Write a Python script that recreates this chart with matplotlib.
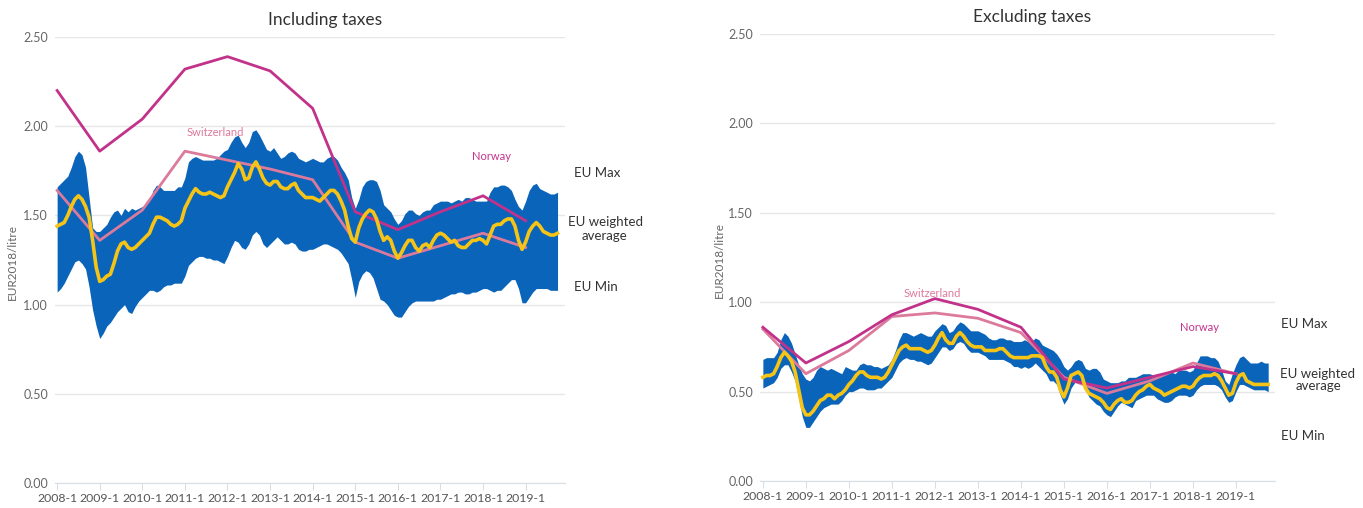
import matplotlib.pyplot as plt
import matplotlib
import numpy as np

matplotlib.use('Agg')
plt.rcParams['font.family'] = ['Lato', 'DejaVu Sans']

# monthly values 2008-1 .. 2019-10, EUR2018/litre
incl_max = [1.66, 1.68, 1.70, 1.72, 1.77, 1.83, 1.86, 1.84, 1.77, 1.60,
            1.43, 1.41, 1.41, 1.43, 1.45, 1.49, 1.52, 1.53, 1.50, 1.54,
            1.52, 1.54, 1.53, 1.54, 1.55, 1.56, 1.58, 1.64, 1.67, 1.66,
            1.64, 1.64, 1.64, 1.64, 1.66, 1.66, 1.71,
            1.80, 1.82, 1.83, 1.82, 1.81, 1.81, 1.81, 1.81, 1.82, 1.84,
            1.86, 1.87, 1.91, 1.94, 1.95, 1.91, 1.88, 1.91, 1.97, 1.98,
            1.95, 1.91, 1.87, 1.86, 1.88, 1.85, 1.82, 1.83, 1.85, 1.86,
            1.85, 1.82, 1.81, 1.80, 1.81, 1.82,
            1.81, 1.80, 1.80, 1.82, 1.83, 1.83, 1.81, 1.77, 1.74, 1.70,
            1.60, 1.54, 1.59, 1.66, 1.69, 1.70, 1.70, 1.69, 1.64, 1.56,
            1.54, 1.52, 1.48, 1.45, 1.47, 1.51, 1.53, 1.53, 1.51, 1.50,
            1.52, 1.53, 1.53, 1.56, 1.57, 1.58,
            1.58, 1.58, 1.57, 1.58, 1.59, 1.58, 1.60, 1.60, 1.59, 1.58,
            1.58, 1.58, 1.58, 1.63, 1.66, 1.66, 1.67, 1.67, 1.66, 1.64,
            1.59, 1.55, 1.53, 1.58, 1.64, 1.67, 1.68, 1.65, 1.64, 1.63,
            1.62, 1.62, 1.63]
incl_min = [1.07, 1.09, 1.12, 1.16, 1.20, 1.24, 1.25, 1.23, 1.20, 1.10,
            0.97, 0.88, 0.81, 0.84, 0.88, 0.90, 0.93, 0.96, 0.98, 1.00,
            0.96, 0.95, 0.99, 1.02, 1.04, 1.06, 1.08, 1.08, 1.07, 1.08,
            1.10, 1.11, 1.11, 1.12, 1.12, 1.12, 1.16,
            1.22, 1.24, 1.26, 1.27, 1.27, 1.26, 1.26, 1.25, 1.25, 1.24,
            1.23, 1.27, 1.32, 1.36, 1.35, 1.32, 1.31, 1.34, 1.39, 1.41,
            1.39, 1.34, 1.32, 1.34, 1.36, 1.38, 1.36, 1.34, 1.34, 1.35,
            1.34, 1.31, 1.30, 1.30, 1.31, 1.31,
            1.32, 1.33, 1.34, 1.34, 1.33, 1.32, 1.31, 1.29, 1.26, 1.23,
            1.14, 1.04, 1.13, 1.17, 1.19, 1.18, 1.15, 1.09, 1.03, 1.02,
            1.00, 0.97, 0.94, 0.93, 0.93, 0.96, 0.99, 1.01, 1.02, 1.02,
            1.02, 1.02, 1.02, 1.02, 1.03, 1.03,
            1.04, 1.05, 1.06, 1.06, 1.07, 1.07, 1.06, 1.06, 1.07, 1.07,
            1.08, 1.09, 1.09, 1.08, 1.07, 1.08, 1.08, 1.10, 1.12, 1.14,
            1.14, 1.09, 1.01, 1.01, 1.04, 1.07, 1.09, 1.09, 1.09, 1.09,
            1.08, 1.08, 1.08]
incl_avg = [1.44, 1.45, 1.46, 1.50, 1.55, 1.59, 1.61, 1.59, 1.55, 1.49,
            1.36, 1.21, 1.13, 1.14, 1.16, 1.17, 1.23, 1.30, 1.34, 1.35,
            1.32, 1.31, 1.32, 1.34, 1.36, 1.38, 1.40, 1.45, 1.49, 1.49,
            1.48, 1.47, 1.45, 1.44, 1.45, 1.47, 1.54,
            1.58, 1.62, 1.65, 1.63, 1.62, 1.62, 1.63, 1.62, 1.61, 1.60,
            1.61, 1.66, 1.70, 1.74, 1.79, 1.76, 1.70, 1.71, 1.77, 1.80,
            1.76, 1.71, 1.68, 1.67, 1.69, 1.69, 1.66, 1.65, 1.65, 1.67,
            1.68, 1.64, 1.62, 1.60, 1.60, 1.60,
            1.59, 1.58, 1.60, 1.62, 1.64, 1.64, 1.62, 1.58, 1.53, 1.44,
            1.37, 1.35, 1.43, 1.48, 1.51, 1.53, 1.52, 1.48, 1.41, 1.36,
            1.38, 1.36, 1.30, 1.26, 1.29, 1.33, 1.36, 1.36, 1.32, 1.30,
            1.33, 1.34, 1.32, 1.36, 1.39, 1.40,
            1.39, 1.37, 1.35, 1.36, 1.33, 1.32, 1.32, 1.34, 1.36, 1.36,
            1.37, 1.36, 1.34, 1.39, 1.44, 1.45, 1.45, 1.47, 1.48, 1.48,
            1.44, 1.36, 1.31, 1.35, 1.41, 1.44, 1.46, 1.44, 1.41, 1.40,
            1.39, 1.39, 1.40]

excl_max = [0.68, 0.69, 0.69, 0.69, 0.72, 0.79, 0.83, 0.81, 0.77, 0.71,
            0.65, 0.60, 0.57, 0.56, 0.58, 0.62, 0.64, 0.63, 0.62, 0.63,
            0.62, 0.61, 0.60, 0.64, 0.63, 0.62, 0.62, 0.65, 0.66, 0.65,
            0.65, 0.64, 0.64,
            0.63, 0.64, 0.65, 0.68, 0.73, 0.79, 0.83, 0.83, 0.82, 0.81,
            0.82, 0.83, 0.82, 0.81, 0.81, 0.84, 0.86, 0.88, 0.87, 0.83,
            0.84, 0.87, 0.89, 0.88, 0.86, 0.84, 0.84, 0.84, 0.83, 0.82,
            0.80, 0.79, 0.79, 0.80, 0.80, 0.79,
            0.79, 0.78, 0.78, 0.78, 0.79, 0.78, 0.78, 0.80, 0.79, 0.76,
            0.75, 0.74, 0.73, 0.71, 0.68, 0.64, 0.62, 0.64, 0.67, 0.68,
            0.67, 0.63, 0.62, 0.63, 0.63, 0.61, 0.57, 0.56, 0.55, 0.55,
            0.55, 0.56, 0.56, 0.58, 0.58,
            0.58, 0.59, 0.60, 0.60, 0.60, 0.59, 0.59, 0.59, 0.60, 0.61,
            0.61, 0.60, 0.62, 0.62, 0.62, 0.61, 0.62, 0.66, 0.70, 0.70,
            0.70, 0.69, 0.69, 0.67, 0.62, 0.56, 0.54, 0.60, 0.65, 0.69,
            0.70, 0.68, 0.66, 0.66, 0.66, 0.67, 0.66, 0.66]
excl_min = [0.52, 0.53, 0.54, 0.55, 0.58, 0.63, 0.65, 0.65, 0.61, 0.56,
            0.46, 0.36, 0.30, 0.30, 0.33, 0.36, 0.39, 0.41, 0.42, 0.43,
            0.43, 0.43, 0.45, 0.48, 0.50, 0.50, 0.51, 0.52, 0.52, 0.51,
            0.51, 0.51, 0.52,
            0.52, 0.54, 0.56, 0.58, 0.62, 0.66, 0.68, 0.69, 0.68, 0.68,
            0.67, 0.67, 0.66, 0.65, 0.66, 0.69, 0.72, 0.75, 0.75, 0.73,
            0.74, 0.77, 0.78, 0.77, 0.74, 0.72, 0.72, 0.72, 0.71, 0.70,
            0.68, 0.68, 0.68, 0.68, 0.68, 0.67,
            0.66, 0.64, 0.64, 0.63, 0.64, 0.63, 0.64, 0.66, 0.64, 0.62,
            0.60, 0.56, 0.56, 0.54, 0.48, 0.43, 0.46, 0.52, 0.55, 0.56,
            0.55, 0.51, 0.47, 0.45, 0.43, 0.42, 0.39, 0.37, 0.36, 0.39,
            0.42, 0.44, 0.43, 0.42, 0.41,
            0.45, 0.46, 0.47, 0.48, 0.48, 0.48, 0.46, 0.45, 0.44, 0.44,
            0.45, 0.47, 0.48, 0.48, 0.48, 0.47, 0.48, 0.51, 0.53, 0.54,
            0.54, 0.54, 0.54, 0.53, 0.51, 0.47, 0.44, 0.45, 0.50, 0.54,
            0.54, 0.53, 0.52, 0.51, 0.51, 0.51, 0.51, 0.50]
excl_avg = [0.58, 0.59, 0.59, 0.60, 0.64, 0.69, 0.72, 0.70, 0.67, 0.61,
            0.51, 0.41, 0.37, 0.37, 0.39, 0.42, 0.45, 0.46, 0.48, 0.48,
            0.46, 0.48, 0.49, 0.51, 0.54, 0.56, 0.59, 0.61, 0.61, 0.59,
            0.58, 0.58, 0.58,
            0.57, 0.58, 0.61, 0.65, 0.69, 0.73, 0.75, 0.76, 0.74, 0.74,
            0.74, 0.74, 0.73, 0.72, 0.73, 0.76, 0.80, 0.83, 0.79, 0.77,
            0.77, 0.81, 0.83, 0.81, 0.78, 0.76, 0.75, 0.75, 0.75, 0.73,
            0.73, 0.73, 0.73, 0.74, 0.74, 0.72,
            0.70, 0.69, 0.69, 0.69, 0.69, 0.69, 0.70, 0.70, 0.70, 0.69,
            0.64, 0.61, 0.61, 0.58, 0.51, 0.47, 0.52, 0.59, 0.60, 0.61,
            0.59, 0.52, 0.49, 0.48, 0.47, 0.46, 0.44, 0.41, 0.40, 0.43,
            0.45, 0.46, 0.44, 0.44, 0.45,
            0.48, 0.50, 0.51, 0.53, 0.54, 0.52, 0.51, 0.50, 0.48, 0.49,
            0.50, 0.51, 0.52, 0.53, 0.53, 0.52, 0.53, 0.56, 0.58, 0.59,
            0.59, 0.59, 0.60, 0.59, 0.56, 0.52, 0.48, 0.49, 0.55, 0.59,
            0.60, 0.56, 0.55, 0.54, 0.54, 0.54, 0.54, 0.54]

# yearly values (January)
year_labels = ['2008-1', '2009-1', '2010-1', '2011-1', '2012-1', '2013-1',
               '2014-1', '2015-1', '2016-1', '2017-1', '2018-1', '2019-1']
norway_incl = [2.20, 1.86, 2.04, 2.32, 2.39, 2.31, 2.10, 1.52, 1.42, 1.52, 1.61, 1.47]
swiss_incl = [1.64, 1.36, 1.53, 1.86, 1.81, 1.76, 1.70, 1.35, 1.26, 1.33, 1.40, 1.32]
norway_excl = [0.86, 0.66, 0.78, 0.93, 1.02, 0.96, 0.86, 0.57, 0.52, 0.58, 0.64, 0.60]
swiss_excl = [0.85, 0.60, 0.73, 0.92, 0.94, 0.91, 0.83, 0.58, 0.49, 0.56, 0.66, 0.60]

BLUE = '#0a64ba'
YELLOW = '#f6c417'
NORWAY = '#c2328a'
SWISS = '#dc7a9c'
GRID = '#e6e6e6'
W, H = 1363, 508


def draw_panel(ax, mx, mn, avg, nor, swi, xlim, swiss_pos, norway_pos):
    months = np.arange(len(avg))
    year_pos = np.arange(len(year_labels)) * 12
    ax.fill_between(months, mn, mx, color=BLUE, lw=0, zorder=2)
    ax.plot(year_pos, swi, color=SWISS, lw=2, zorder=3)
    ax.plot(year_pos, nor, color=NORWAY, lw=2, zorder=4)
    ax.plot(months, avg, color=YELLOW, lw=2.6, zorder=5)
    ax.text(*swiss_pos, 'Switzerland', color=SWISS, fontsize=8, ha='center', va='center')
    ax.text(*norway_pos, 'Norway', color=NORWAY, fontsize=8, ha='center', va='center')

    ax.set_xlim(*xlim)
    ax.set_ylim(0, 2.5)
    ax.set_yticks([0, 0.5, 1.0, 1.5, 2.0, 2.5])
    ax.set_yticklabels(['%.2f' % v for v in ax.get_yticks()])
    ax.set_xticks(year_pos)
    ax.set_xticklabels(year_labels)
    ax.grid(axis='y', color=GRID, lw=1)
    ax.set_axisbelow(True)
    for s in ['top', 'right', 'left']:
        ax.spines[s].set_visible(False)
    ax.spines['bottom'].set_color('#d8dde8')
    ax.tick_params(axis='y', length=0, pad=5, labelsize=9, labelcolor='#666666')
    ax.tick_params(axis='x', length=5, color='#d8dde8', pad=2, labelsize=8.8, labelcolor='#555555')


fig = plt.figure(figsize=(W / 100, H / 100), dpi=100)

ax1 = fig.add_axes([55 / W, 25 / H, 510 / W, 446 / H])
draw_panel(ax1, incl_max, incl_min, incl_avg, norway_incl, swiss_incl,
           (-0.6, 143.1), (44.6, 1.965), (122.5, 1.83))

ax2 = fig.add_axes([760 / W, 27 / H, 515 / W, 447 / H])
draw_panel(ax2, excl_max, excl_min, excl_avg, norway_excl, swiss_excl,
           (-0.8, 142.9), (47.4, 1.05), (121.7, 0.856))

fig.text(325 / W, 1 - 20 / H, 'Including taxes', ha='center', va='center', fontsize=12.5, color='#333333')
fig.text(1032 / W, 1 - 17 / H, 'Excluding taxes', ha='center', va='center', fontsize=12.5, color='#333333')
fig.text(12 / W, 1 - 262 / H, 'EUR2018/litre', rotation=90, ha='center', va='center', fontsize=8.5, color='#666666')
fig.text(719 / W, 1 - 260 / H, 'EUR2018/litre', rotation=90, ha='center', va='center', fontsize=8.5, color='#666666')

side = dict(ha='center', va='center', fontsize=9.5, color='#333333')
fig.text(597 / W, 1 - 173 / H, 'EU Max', **side)
fig.text(605 / W, 1 - 229 / H, 'EU weighted\naverage', linespacing=1.1, **side)
fig.text(596 / W, 1 - 287 / H, 'EU Min', **side)
fig.text(1304 / W, 1 - 324 / H, 'EU Max', **side)
fig.text(1318 / W, 1 - 380 / H, 'EU weighted\naverage', linespacing=1.1, **side)
fig.text(1303 / W, 1 - 436 / H, 'EU Min', **side)

fig.savefig('out.png', dpi=100, facecolor='white')
